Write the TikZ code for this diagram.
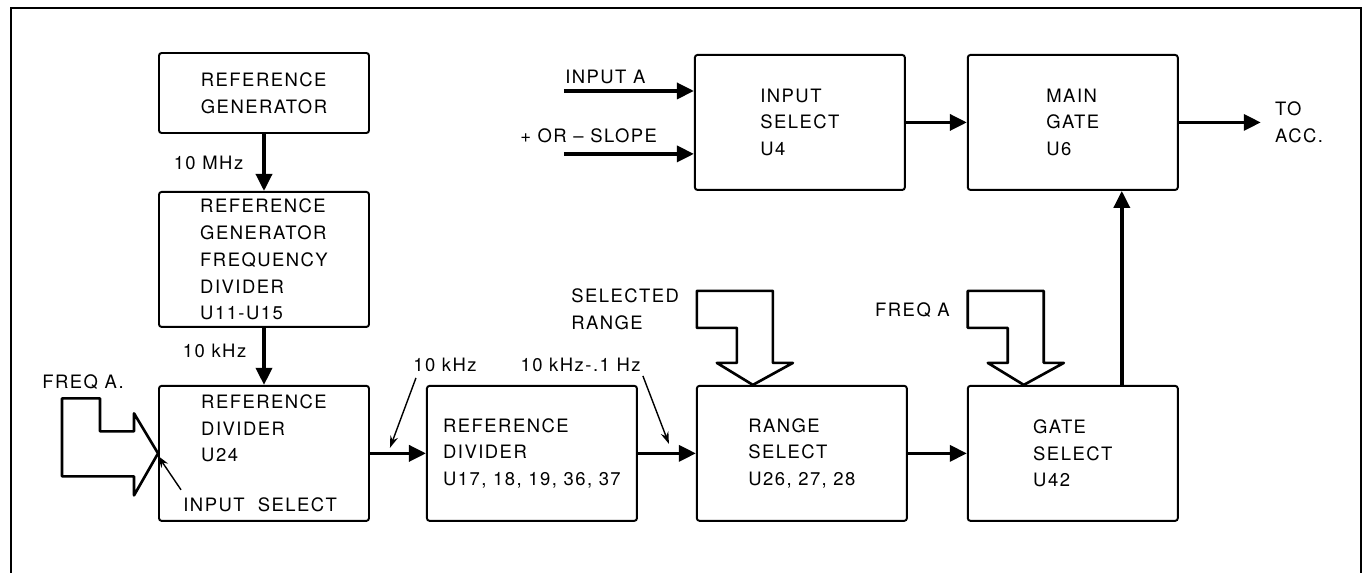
\documentclass[tikz,border=0pt]{standalone}
\usepackage{fontspec}
\newfontfamily\diagfont{TeX Gyre Heros}[LetterSpace=8]
\newcommand\blkfont{\diagfont\fontsize{10.5}{15.3}\selectfont}
\usetikzlibrary{arrows.meta,positioning}
\tikzset{
  >={Triangle[length=3.4mm, width=3.2mm]},
  blk/.style={draw, line width=1.1pt, rounded corners=1.5pt, align=left, inner ysep=1pt, font=\blkfont, minimum width=4.2cm, minimum height=2.7cm},
  lbl/.style={inner sep=0pt, align=left, font=\blkfont},
  sig/.style={->, line width=2pt},
  ptr/.style={-{Stealth[length=2.4mm, width=1.6mm]}, line width=0.8pt},
  fat/.style={line width=1.5pt, line join=round},
  panel/.style={line width=0.7pt},
  fatdown/.pic={\draw[fat] (0,0) -- (-0.72,0.44) -- (-0.32,0.44) -- (-0.32,1.14) -- (-1.12,1.14) -- (-1.12,1.88) -- (0.40,1.88) -- (0.40,0.44) -- (0.80,0.44) -- cycle;},
  fatright/.pic={\draw[fat] (0,0) -- (-0.48,0.80) -- (-0.48,0.44) -- (-1.16,0.44) -- (-1.16,1.10) -- (-1.92,1.10) -- (-1.92,-0.46) -- (-0.48,-0.46) -- (-0.48,-0.84) -- cycle;},
}
\begin{document}
\begin{tikzpicture}[node distance=1.14cm and 1.12cm]
  \useasboundingbox (0,0) rectangle (27.3,-11.46);
  \draw[panel] (0.22,-11.46) -- (0.22,-0.16) -- (27.22,-0.16) -- (27.22,-11.46);

  \node[blk, minimum height=1.6cm] (refgen) at (5.28,-1.86) {REFERENCE\\GENERATOR};
  \node[blk, below=of refgen] (freqdiv) {REFERENCE\\GENERATOR\\FREQUENCY\\DIVIDER\\U11-U15};
  \node[blk, below=of freqdiv] (refdiv) {};
  \node[blk, right=of refdiv] (refdivb) {REFERENCE\\DIVIDER\\U17, 18, 19, 36, 37};
  \node[blk, right=1.16cm of refdivb] (rangesel) {RANGE\\SELECT\\U26, 27, 28};
  \node[blk, right=1.18cm of rangesel] (gatesel) {GATE\\SELECT\\U42};
  \node[blk, above=3.88cm of gatesel] (maingate) {MAIN\\GATE\\U6};
  \node[blk, left=1.22cm of maingate] (inputsel) {INPUT\\SELECT\\U4};

  \node[lbl] (refdivtxt) at ([yshift=0.5cm]refdiv.center) {REFERENCE\\DIVIDER\\U24};
  \node[lbl, anchor=base west] (insel) at ([shift={(0.5,0.2)}]refdiv.south west) {INPUT\ \ SELECT};

  \draw[sig] (refgen) -- node[lbl, left=0.38cm] {10 MHz} (freqdiv);
  \draw[sig] (freqdiv) -- node[lbl, pos=0.4, left=0.32cm] {10 kHz} (refdiv);
  \draw[sig] (refdiv) -- (refdivb);
  \draw[sig] (refdivb) -- (rangesel);
  \draw[sig] (rangesel) -- (gatesel);
  \draw[sig] (inputsel) -- (maingate);
  \draw[sig] ([xshift=0.98cm]gatesel.north) -- ([xshift=0.98cm]maingate.south);
  \coordinate (toacc) at ([xshift=1.64cm]maingate.east);
  \draw[sig] (maingate) -- (toacc);
  \node[lbl, right=0.28cm of toacc] (acclbl) {TO\\ACC.};

  % inputs of the input select
  \coordinate (ina) at ([shift={(-2.6,-0.74)}]inputsel.north west);
  \coordinate (slope) at ([shift={(-2.6,0.74)}]inputsel.south west);
  \draw[sig] (ina) -- (ina -| inputsel.west);
  \draw[sig] (slope) -- (slope -| inputsel.west);
  \node[lbl, anchor=west] (inalbl) at ([shift={(0.02,0.28)}]ina) {INPUT A};
  \node[lbl, anchor=west] (slopelbl) at ([shift={(-0.88,0.36)}]slope) {+ OR – SLOPE};

  \node[lbl, anchor=base west] (khza) at ([shift={(-0.26,0.26)}]refdivb.north west) {10 kHz};
  \node[lbl, anchor=base east] (khzb) at ([shift={(0.06,0.26)}]refdivb.north east) {10 kHz-.1 Hz};
  \draw[ptr] ([shift={(0.06,-0.12)}]khza.base west) -- ([shift={(0.4,0.11)}]refdiv.east);
  \draw[ptr] ([shift={(0.04,-0.08)}]khzb.base east) -- ([shift={(-0.54,0.19)}]rangesel.west);

  % wide arrows
  \node[lbl, anchor=base west] (freqalbl) at ([shift={(-2.32,-0.08)}]refdiv.north west) {FREQ A.};
  \pic at (refdiv.west) {fatright};
  \draw[ptr] ([shift={(-0.04,0.44)}]insel.base west) -- ([yshift=-0.05cm]refdiv.west);

  \node[lbl, anchor=west] (rangelbl) at ([shift={(-2.5,1.52)}]rangesel.north west) {SELECTED\\RANGE};
  \pic at ([xshift=-0.98cm]rangesel.north) {fatdown};

  \node[lbl, anchor=west] (freqblbl) at ([shift={(-1.84,1.5)}]gatesel.north west) {FREQ A};
  \pic at ([xshift=-0.98cm]gatesel.north) {fatdown};
\end{tikzpicture}
\end{document}
